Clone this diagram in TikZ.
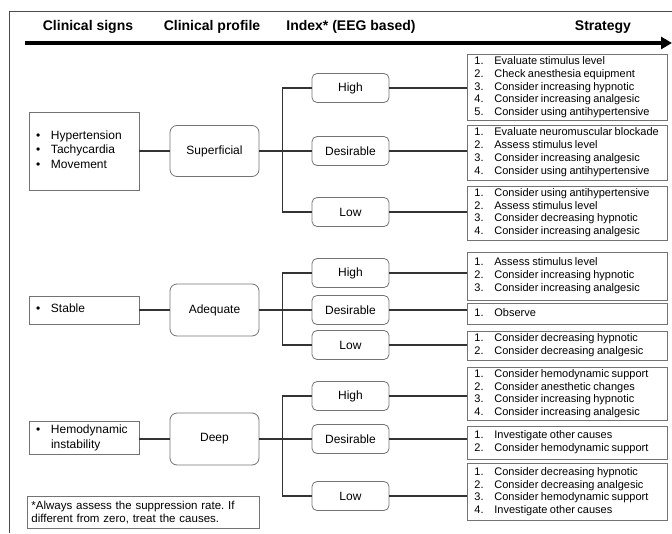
\documentclass[tikz,border=0pt]{standalone}
\usepackage{fontspec}
\setmainfont{Liberation Sans}
\frenchspacing
\usetikzlibrary{positioning,arrows.meta}
\tikzstyle{conn} = [line width=1.1pt, draw=black!80]
\tikzstyle{head} = [font=\bfseries\fontsize{14}{16}\selectfont]
\tikzstyle{signbox} = [draw=black!55, line width=0.8pt, minimum width=110pt, text width=96pt, inner xsep=7pt, inner ysep=2pt, align=left, font=\fontsize{12}{14.5}\selectfont]
\tikzstyle{profbox} = [draw=black!55, line width=0.8pt, rounded corners=7pt, minimum width=89pt, minimum height=51pt, font=\fontsize{12}{14}\selectfont]
\tikzstyle{idxbox} = [draw=black!55, line width=0.8pt, rounded corners=5pt, minimum width=77pt, minimum height=29pt, font=\fontsize{12}{14}\selectfont]
\tikzstyle{stratbox} = [draw=black!55, line width=0.8pt, anchor=west, minimum width=200pt, text width=186pt, inner xsep=7pt, inner ysep=1pt, align=left, font=\fontsize{11}{12.8}\selectfont]
\newcommand{\steps}[1]{\spaceskip=2.4pt\relax\begin{tabular}{@{}p{20pt}@{}l@{}}#1\end{tabular}}
\newcommand{\bullets}[1]{\begin{tabular}{@{}p{15pt}@{}l@{}}#1\end{tabular}}

\begin{document}
\begin{tikzpicture}[x=1pt, y=-1pt]
\useasboundingbox (0,0) rectangle (672,533);
% frame
\draw[line width=0.8pt, black!70] (672,11) -- (9,11) -- (9,533);

% column titles and time arrow
\node[head] (hsign) at (88,27) {Clinical signs};
\node[head] (hprof) at (212,27) {Clinical profile};
\node[head] (hidx) at (351,27) {Index* (EEG based)};
\node[head] (hstrat) at (603,27) {Strategy};
\coordinate (arrS) at (25,43);
\coordinate (arrE) at (672,43);
\draw[line width=3.5pt, -{Triangle[length=11pt,width=12pt]}] (arrS) -- (arrE);

% clinical signs
\node[signbox, minimum height=78pt] (sig1) at (84,151) {\bullets{\textbullet & Hypertension\\ \textbullet & Tachycardia\\ \textbullet & Movement}};
\node[signbox, minimum height=28pt] (sig2) at (84,310) {\bullets{\textbullet & Stable}};
\node[signbox, minimum height=28pt] (sig3) at (84,438) {\bullets{\textbullet & Hemodynamic\\ & instability}};

% clinical profiles
\node[profbox] (sup) at (214.5,151) {Superficial};
\node[profbox, minimum height=52pt] (ade) at (214.5,310) {Adequate};
\node[profbox, minimum height=52pt] (dep) at (214.5,439) {Deep};

% index
\node[idxbox] (hi1) at (350.5,88) {High};
\node[idxbox] (de1) at (350.5,151) {Desirable};
\node[idxbox] (lo1) at (350.5,212) {Low};
\node[idxbox] (hi2) at (350.5,273) {High};
\node[idxbox] (de2) at (350.5,310) {Desirable};
\node[idxbox] (lo2) at (350.5,345) {Low};
\node[idxbox] (hi3) at (350.5,396) {High};
\node[idxbox] (de3) at (350.5,439) {Desirable};
\node[idxbox] (lo3) at (350.5,496) {Low};

% strategies
\node[stratbox, minimum height=65pt] (s1) at (467,87.5) {\steps{1. & Evaluate stimulus level\\ 2. & Check anesthesia equipment\\ 3. & Consider increasing hypnotic\\ 4. & Consider increasing analgesic\\ 5. & Consider using antihypertensive}};
\node[stratbox, minimum height=55pt] (s2) at (467,152.5) {\steps{1. & Evaluate neuromuscular blockade\\ 2. & Assess stimulus level\\ 3. & Consider increasing analgesic\\ 4. & Consider using antihypertensive}};
\node[stratbox, minimum height=54pt] (s3) at (467,213) {\steps{1. & Consider using antihypertensive\\ 2. & Assess stimulus level\\ 3. & Consider decreasing hypnotic\\ 4. & Consider increasing analgesic}};
\node[stratbox, minimum height=48pt] (s4) at (467,276) {\steps{1. & Assess stimulus level\\ 2. & Consider increasing hypnotic\\ 3. & Consider increasing analgesic}};
\node[stratbox, minimum height=21pt] (s5) at (467,313.5) {\steps{1. & Observe}};
\node[stratbox, minimum height=29pt] (s6) at (467,345.5) {\steps{1. & Consider decreasing hypnotic\\ 2. & Consider decreasing analgesic}};
\node[stratbox, minimum height=50pt] (s7) at (467,394) {\steps{1. & Consider hemodynamic support\\ 2. & Consider anesthetic changes\\ 3. & Consider increasing hypnotic\\ 4. & Consider increasing analgesic}};
\node[stratbox, minimum height=33pt] (s8) at (467,442.5) {\steps{1. & Investigate other causes\\ 2. & Consider hemodynamic support}};
\node[stratbox, minimum height=57pt] (s9) at (467,492) {\steps{1. & Consider decreasing hypnotic\\ 2. & Consider decreasing analgesic\\ 3. & Consider hemodynamic support\\ 4. & Investigate other causes}};

% footnote
\node[draw=black!55, line width=0.8pt, anchor=north west, minimum width=232pt, minimum height=32pt, text width=224pt, inner xsep=4pt, align=left, font=\fontsize{11.5}{13.5}\selectfont] (note) at (27,496) {*Always assess the suppression rate. If\\ different from zero, treat the causes.};

% connectors
\draw[conn] (sig1.east |- sup.west) -- (sup.west);
\draw[conn] (sig2.east |- ade.west) -- (ade.west);
\draw[conn] (sig3.east |- dep.west) -- (dep.west);
\draw[conn] (sup.east) -- (de1.west);
\draw[conn] (ade.east) -- (de2.west);
\draw[conn] (dep.east) -- (de3.west);
\draw[conn] (hi1.west) -- ++(-29,0) |- (lo1.west);
\draw[conn] (hi2.west) -- ++(-29,0) |- (lo2.west);
\draw[conn] (hi3.west) -- ++(-29,0) |- (lo3.west);
\foreach \i/\s in {hi1/s1, de1/s2, lo1/s3, hi2/s4, de2/s5, lo2/s6, hi3/s7, de3/s8, lo3/s9}
  \draw[conn] (\i.east) -- (\i.east -| \s.west);

\end{tikzpicture}
\end{document}
